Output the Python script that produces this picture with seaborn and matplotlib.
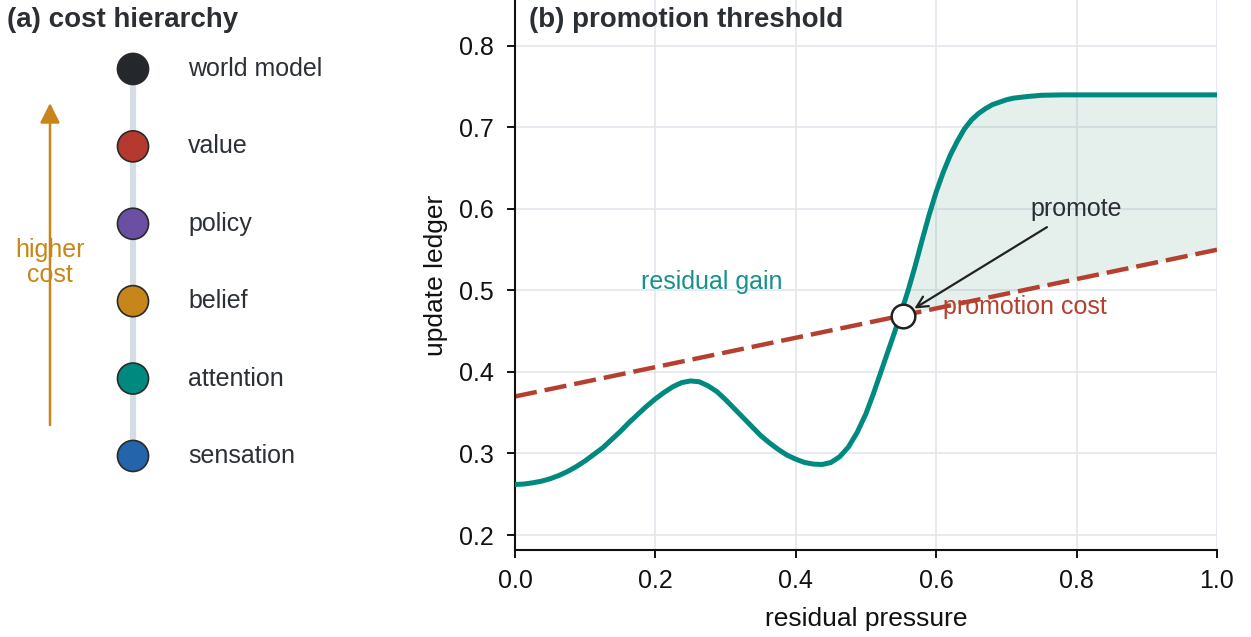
import numpy as np
import pandas as pd
import matplotlib
matplotlib.use("Agg")
import matplotlib.pyplot as plt
import seaborn as sns

# ---------------- data ----------------
levels = ["sensation", "attention", "belief", "policy", "value", "world model"]
level_colors = ["#2364aa", "#00897f", "#c8861a", "#6a4fa3", "#b5392e", "#24272b"]

gain_x = [0.0, 0.0125, 0.025, 0.0375, 0.05, 0.0625, 0.075, 0.0875, 0.1, 0.1125,
          0.125, 0.1375, 0.15, 0.1625, 0.175, 0.1875, 0.2, 0.2125, 0.225, 0.2375,
          0.25, 0.2625, 0.275, 0.2875, 0.3, 0.3125, 0.325, 0.3375, 0.35, 0.3625,
          0.375, 0.3875, 0.4, 0.4125, 0.425, 0.4375, 0.45, 0.4625, 0.475, 0.4875,
          0.5, 0.51, 0.52, 0.53, 0.54, 0.55, 0.56, 0.57, 0.58, 0.59, 0.6, 0.61,
          0.62, 0.63, 0.64, 0.65, 0.66, 0.67, 0.68, 0.69, 0.7, 0.71, 0.72, 0.73,
          0.75, 0.78, 0.8, 0.85, 0.9, 0.95, 1.0]
gain_y = [0.262, 0.2625, 0.264, 0.266, 0.269, 0.273, 0.278, 0.284, 0.291, 0.299,
          0.307, 0.317, 0.327, 0.338, 0.348, 0.358, 0.367, 0.375, 0.382, 0.387,
          0.389, 0.388, 0.383, 0.376, 0.366, 0.355, 0.344, 0.333, 0.322, 0.313,
          0.305, 0.298, 0.293, 0.289, 0.287, 0.2865, 0.289, 0.296, 0.308, 0.326,
          0.349, 0.372, 0.397, 0.422, 0.447, 0.473, 0.500, 0.530, 0.562, 0.593,
          0.621, 0.645, 0.666, 0.683, 0.698, 0.709, 0.717, 0.723, 0.728, 0.731,
          0.734, 0.736, 0.737, 0.738, 0.7395, 0.740, 0.740, 0.740, 0.740, 0.740,
          0.740]

cost_x = [0.0, 1.0]
cost_y = [0.37, 0.55]

cross_x = [0.552]
cross_y = [0.469]

x_ticks = [0.0, 0.2, 0.4, 0.6, 0.8, 1.0]
y_ticks = [0.2, 0.3, 0.4, 0.5, 0.6, 0.7, 0.8]

TEAL = "#00897f"
RED = "#b5402f"
GOLD = "#c8861a"
DARK = "#2b2e33"
FS = 18
LFS = 19
TFS = 20

# ---------------- style ----------------
sns.set_theme(style="white")
plt.rcParams["font.family"] = ["Liberation Sans", "DejaVu Sans"]

W, H = 1251, 637
fig = plt.figure(figsize=(W / 100, H / 100), dpi=100)

# ---------------- panel (a) ----------------
ax_a = fig.add_axes([0, 0, 0.33, 1])
ax_a.set_axis_off()
ax_a.set_xlim(-1.33, 0.33 * W / 100 - 1.33)
ax_a.set_ylim(-2.339, 5.891)

idx = np.arange(len(levels))
ax_a.plot([0, 0], [idx[0], idx[-1]], color="#d6dce4", lw=4.5,
          solid_capstyle="butt", zorder=1)
df_levels = pd.DataFrame({"x": np.zeros(len(levels)), "y": idx, "level": levels})
sns.scatterplot(data=df_levels, x="x", y="y", hue="level", hue_order=levels,
                palette=level_colors, s=500, edgecolor="#2a2a2a", linewidth=1.2,
                legend=False, zorder=3, ax=ax_a)
for i, lab in enumerate(levels):
    ax_a.text(0.55, i, lab, ha="left", va="center", fontsize=FS,
              color="#2b2f36")

ax_a.annotate("", xy=(-0.83, 4.56), xytext=(-0.83, 0.40),
              arrowprops=dict(arrowstyle="-|>,head_length=0.6,head_width=0.3",
                              color=GOLD, lw=1.8, mutation_scale=20,
                              shrinkA=0, shrinkB=0), zorder=2)
ax_a.text(-0.83, 2.50, "higher\ncost", ha="center", va="center", color=GOLD,
          fontsize=FS, linespacing=1.05, zorder=1)
ax_a.set_xlabel("")
ax_a.set_ylabel("")

fig.text(7 / W, 1 - 27 / H, "(a) cost hierarchy", fontsize=TFS,
         fontweight="bold", color=DARK, va="baseline", ha="left")

# ---------------- panel (b) ----------------
ax_b = fig.add_axes([515 / W, 1 - 550 / H, 702 / W, 550 / H])

gx = np.array(gain_x)
gy = np.array(gain_y)
cy_on_g = np.interp(gx, cost_x, cost_y)
ax_b.fill_between(gx, gy, cy_on_g, where=gy >= cy_on_g, interpolate=True,
                  color="#2f8a6e", alpha=0.12, lw=0, zorder=1)

df_gain = pd.DataFrame({"x": gain_x, "y": gain_y})
sns.lineplot(data=df_gain, x="x", y="y", color=TEAL, lw=3.6, ax=ax_b,
             zorder=3, solid_joinstyle="round", solid_capstyle="butt")
df_cost = pd.DataFrame({"x": cost_x, "y": cost_y})
sns.lineplot(data=df_cost, x="x", y="y", color=RED, lw=3.2, ax=ax_b, zorder=2)
ax_b.lines[-1].set_dashes((5.0, 1.8))

sns.scatterplot(x=cross_x, y=cross_y, s=290, color="white", edgecolor="#222222",
                linewidth=1.8, zorder=5, ax=ax_b, legend=False)

ax_b.annotate("promote", xy=(cross_x[0], cross_y[0]), xytext=(0.8, 0.6),
              ha="center", va="center", fontsize=FS, color=DARK,
              arrowprops=dict(arrowstyle="->", color="#222222", lw=1.6,
                              mutation_scale=20, shrinkA=4, shrinkB=10),
              zorder=6)
ax_b.text(0.28, 0.51, "residual gain", ha="center", va="center", fontsize=FS,
          color="#17918a")
ax_b.text(0.61, 0.48, "promotion cost", ha="left", va="center", fontsize=FS,
          color=RED, zorder=1.5)

ax_b.text(0.02, 1 - 27 / 550, "(b) promotion threshold", transform=ax_b.transAxes,
          fontsize=TFS, fontweight="bold", color=DARK, va="baseline", ha="left")

ax_b.set_xlim(0, 1)
ax_b.set_ylim(0.1816, 0.8564)
ax_b.set_xticks(x_ticks)
ax_b.set_yticks(y_ticks)
ax_b.set_xticklabels([f"{v:.1f}" for v in x_ticks])
ax_b.set_yticklabels([f"{v:.1f}" for v in y_ticks])
ax_b.grid(True, color="#e3e6ec", lw=1.2, zorder=0)
ax_b.set_axisbelow(True)
for s in ["top", "right"]:
    ax_b.spines[s].set_visible(False)
for s in ["left", "bottom"]:
    ax_b.spines[s].set_color("#111111")
    ax_b.spines[s].set_linewidth(1.5)
ax_b.tick_params(axis="both", direction="out", length=6, width=1.4,
                 color="#111111", labelsize=FS, labelcolor="#111111",
                 left=True, bottom=True)
ax_b.tick_params(axis="x", pad=8)
ax_b.tick_params(axis="y", pad=9)
ax_b.set_xlabel("residual pressure", fontsize=LFS, color="#111111", labelpad=10)
ax_b.set_ylabel("update ledger", fontsize=LFS, color="#111111", labelpad=8)

fig.savefig("out.png", dpi=100)
